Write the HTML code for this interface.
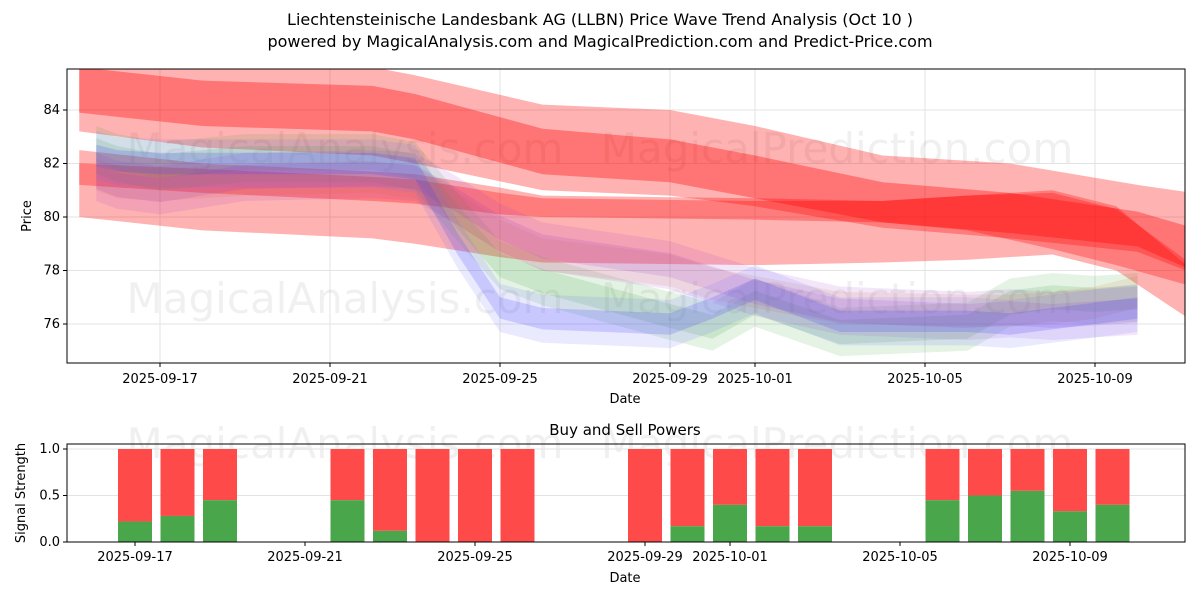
<!DOCTYPE html>
<html><head><meta charset="utf-8"><style>
body{margin:0;background:#fff;font-family:"Liberation Sans","DejaVu Sans",sans-serif}
svg text{font-family:"DejaVu Sans","Liberation Sans",sans-serif}
</style></head><body>
<svg id="c" width="1200" height="600" xmlns="http://www.w3.org/2000/svg">
<rect width="1200" height="600" fill="#fff"/>
<text x="600" y="25" text-anchor="middle" font-size="16">Liechtensteinische Landesbank AG (LLBN) Price Wave Trend Analysis (Oct 10 )</text>
<text x="600" y="47" text-anchor="middle" font-size="16">powered by MagicalAnalysis.com and MagicalPrediction.com and Predict-Price.com</text>
<g id="topG"></g><g id="botG"></g>
</svg>
<script>
// ---- data ----
const topTicksY=[76,78,80,82,84];
const topTickDates=["2025-09-17","2025-09-21","2025-09-25","2025-09-29","2025-10-01","2025-10-05","2025-10-09"];
const topTickDays=[2,6,10,14,16,20,24];
const redDays1=[0.1,3,7,8,11,14,16,19,22,25,26.3];
const redUp1=[85.6,85.6,85.6,85.3,84.2,84.0,83.4,82.3,82.0,81.2,80.9];
const redLo1=[83.2,82.6,82.3,82.0,81.0,80.8,80.4,79.6,79.2,78.7,77.9];
const redUp2=[85.6,85.1,84.9,84.6,83.3,82.9,82.3,81.3,80.9,80.2,79.6];
const redLo2=[83.9,83.4,83.2,82.9,81.6,81.3,80.7,79.8,79.4,78.9,78.0];
const redDays3=[0.1,3,7,8,10,11,16,19,21,23,24.5,26.3];
const redUp3=[82.5,82.0,81.7,81.6,81.1,80.8,80.7,80.6,80.8,80.9,80.3,78.2];
const redLo3=[80.0,79.5,79.2,79.0,78.5,78.3,78.2,78.3,78.4,78.6,78.0,76.1];
const redUp4=[82.0,81.8,81.5,81.4,80.9,80.7,80.6,80.6,80.8,81.0,80.4,78.0];
const redLo4=[81.2,80.9,80.6,80.5,80.1,80.0,79.9,79.8,79.5,78.8,78.2,77.4];
const waveDays=[0.5,1,2,4,7,8,9,10,11,14,15,16,18,21,22,23,24,25];
const blueC=[82.3,82.1,82.0,82.0,82.0,81.8,79.0,76.6,76.2,76.0,76.6,77.3,76.1,76.1,76.0,76.2,76.4,76.6];
const greenC=[82.5,82.2,81.9,82.2,82.2,81.9,80.0,78.2,77.6,76.3,75.9,76.8,75.7,75.9,76.8,77.0,76.9,77.0];
const purpleC=[81.5,81.2,81.0,81.5,81.6,81.5,80.6,79.6,78.9,78.2,77.7,77.2,76.5,76.3,76.4,76.3,76.4,76.5];
const orangeC=[81.6,81.3,81.2,81.4,81.5,81.3,80.3,79.3,78.6,78.0,77.5,77.2,76.6,76.5,76.5,76.6,76.8,77.2];
const barDates=["2025-09-17","2025-09-18","2025-09-19","2025-09-22","2025-09-23","2025-09-24","2025-09-25","2025-09-26","2025-09-29","2025-09-30","2025-10-01","2025-10-02","2025-10-03","2025-10-06","2025-10-07","2025-10-08","2025-10-09","2025-10-10"];
const buyVals=[0.22,0.28,0.45,0.45,0.12,0,0,0,0,0.17,0.40,0.17,0.17,0.45,0.50,0.55,0.33,0.40];
const botTicksY=[0,0.5,1.0];
// ---- axes ----
const NS="http://www.w3.org/2000/svg";
const xT=d=>75+d*42.5, yT=v=>110+(84-v)*26.75;
const d0=Date.UTC(2025,8,15);
const dayOf=s=>{const p=s.split('-');return (Date.UTC(+p[0],+p[1]-1,+p[2])-d0)/864e5;};
const xB=d=>135+(d-2)*42.5, yB=v=>542-v*93;
function el(par,tag,at){const e=document.createElementNS(NS,tag);for(const k in at)e.setAttribute(k,at[k]);par.appendChild(e);return e;}
const topG=document.getElementById('topG'),botG=document.getElementById('botG');
const cp=el(topG,'clipPath',{id:'cp'});
el(cp,'rect',{x:67,y:69,width:1118,height:294});
topTickDays.forEach(d=>{const l=el(topG,'line',{x1:xT(d),x2:xT(d),y1:69,y2:363,stroke:'#e3e3e3'});});
topTicksY.forEach(v=>{const l=el(topG,'line',{x1:67,x2:1185,y1:yT(v),y2:yT(v),stroke:'#e3e3e3'});});
const wm=[["MagicalAnalysis.com",345,163],["MagicalPrediction.com",837,163],["MagicalAnalysis.com",345,313],["MagicalPrediction.com",837,313],["MagicalAnalysis.com",345,458],["MagicalPrediction.com",837,458]];
wm.forEach(w=>{const t=el(topG,'text',{x:w[1],y:w[2],'text-anchor':'middle','font-size':42,fill:'#000','fill-opacity':0.06});t.textContent=w[0];});
const g=el(topG,'g',{'clip-path':'url(#cp)'});
function band(days,up,lo,color,op,name){
 let pts=days.map((d,i)=>xT(d)+','+yT(up[i]));
 for(let i=days.length-1;i>=0;i--)pts.push(xT(days[i])+','+yT(lo[i]));
 const p=el(g,'polygon',{points:pts.join(' '),fill:color,'fill-opacity':op});
 
 
}
band(redDays1,redUp1,redLo1,'#ff0000',0.3,'red-band-upper-outer');
band(redDays1,redUp2,redLo2,'#ff0000',0.35,'red-band-upper-inner');
band(redDays3,redUp3,redLo3,'#ff0000',0.3,'red-band-lower-outer');
band(redDays3,redUp4,redLo4,'#ff0000',0.3,'red-band-lower-inner');
function wave(c,hw,color,op,name){band(waveDays,c.map(v=>v+hw),c.map(v=>v-hw),color,op,name);}
wave(greenC,0.9,'#2ca02c',0.12,'green-wave-outer');
wave(greenC,0.45,'#2ca02c',0.15,'green-wave-inner');
wave(orangeC,0.6,'#d2691e',0.12,'orange-wave');
wave(purpleC,0.9,'#9932cc',0.12,'purple-wave-outer');
wave(purpleC,0.45,'#9932cc',0.15,'purple-wave-inner');
wave(blueC,0.9,'#6a6aff',0.14,'blue-wave-outer');
wave(blueC,0.4,'#4040ff',0.2,'blue-wave-inner');
const f1=el(topG,'rect',{x:67,y:69,width:1118,height:294,fill:'none',stroke:'#000'});


topTicksY.forEach(v=>{el(topG,'line',{x1:63,x2:67,y1:yT(v),y2:yT(v),stroke:'#000'});const t=el(topG,'text',{x:60,y:yT(v)+4,'text-anchor':'end','font-size':13});t.textContent=v;});
topTickDays.forEach((d,i)=>{el(topG,'line',{x1:xT(d),x2:xT(d),y1:363,y2:367,stroke:'#000'});const t=el(topG,'text',{x:xT(d),y:383,'text-anchor':'middle','font-size':13});t.textContent=topTickDates[i];});
let t=el(topG,'text',{x:625,y:403,'text-anchor':'middle','font-size':13});t.textContent='Date';


t=el(topG,'text',{x:31,y:216,'text-anchor':'middle','font-size':13,transform:'rotate(-90 31 216)'});t.textContent='Price';


t=el(botG,'text',{x:625,y:435,'text-anchor':'middle','font-size':15});t.textContent='Buy and Sell Powers';


botTicksY.forEach(v=>{const l=el(botG,'line',{x1:67,x2:1185,y1:yB(v),y2:yB(v),stroke:'#e3e3e3'});});
barDates.forEach((s,i)=>{const d=dayOf(s),x=xB(d)-17;
 const r=el(botG,'rect',{x:x,y:yB(1),width:34,height:yB(buyVals[i])-yB(1),fill:'#ff4a4a'});
 
 
 const b=el(botG,'rect',{x:x,y:yB(buyVals[i]),width:34,height:yB(0)-yB(buyVals[i]),fill:'#4aa64a'});
 
 });
const f2=el(botG,'rect',{x:67,y:444,width:1118,height:98,fill:'none',stroke:'#000'});


botTicksY.forEach(v=>{el(botG,'line',{x1:63,x2:67,y1:yB(v),y2:yB(v),stroke:'#000'});const t=el(botG,'text',{x:60,y:yB(v)+4,'text-anchor':'end','font-size':13});t.textContent=v.toFixed(1);});
topTickDays.forEach((d,i)=>{el(botG,'line',{x1:xB(d),x2:xB(d),y1:542,y2:546,stroke:'#000'});const t=el(botG,'text',{x:xB(d),y:561,'text-anchor':'middle','font-size':13});t.textContent=topTickDates[i];});
t=el(botG,'text',{x:625,y:582,'text-anchor':'middle','font-size':13});t.textContent='Date';


t=el(botG,'text',{x:25,y:493,'text-anchor':'middle','font-size':13,transform:'rotate(-90 25 493)'});t.textContent='Signal Strength';


</script>
</body></html>
